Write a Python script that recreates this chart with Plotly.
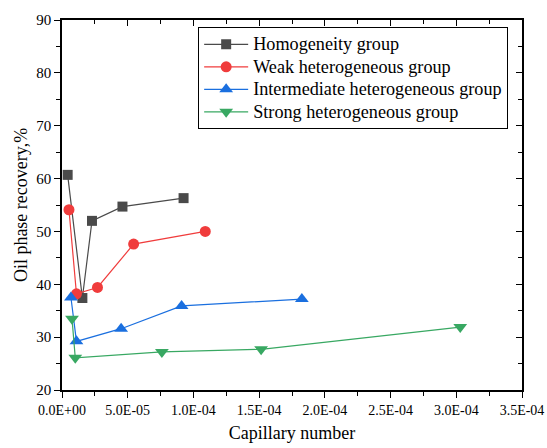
import plotly.graph_objects as go

# Data (capillary number, oil phase recovery %)
homo_x = [4.3e-6, 1.55e-5, 2.28e-5, 4.6e-5, 9.25e-5]
homo_y = [60.7, 37.4, 52.0, 54.7, 56.3]
weak_x = [5.3e-6, 1.1e-5, 2.7e-5, 5.45e-5, 1.09e-4]
weak_y = [54.1, 38.2, 39.4, 47.6, 50.0]
inter_x = [6.8e-6, 1.1e-5, 4.5e-5, 9.1e-5, 1.825e-4]
inter_y = [37.5, 29.2, 31.6, 35.9, 37.2]
strong_x = [7.6e-6, 1.01e-5, 7.6e-5, 1.515e-4, 3.03e-4]
strong_y = [33.5, 26.1, 27.2, 27.7, 31.9]

series_names = ["Homogeneity group", "Weak heterogeneous group",
                "Intermediate heterogeneous group", "Strong heterogeneous group"]

x_tickvals = [0, 5e-5, 1e-4, 1.5e-4, 2e-4, 2.5e-4, 3e-4, 3.5e-4]
x_ticktext = ["0.0E+00", "5.0E-05", "1.0E-04", "1.5E-04", "2.0E-04", "2.5E-04", "3.0E-04", "3.5E-04"]
y_tickvals = [20, 30, 40, 50, 60, 70, 80, 90]

FONT = "Liberation Serif"

styles = [
    ("#4a4a4a", "square", 10),
    ("#f03c3c", "circle", 11),
    ("#1a6fdf", "triangle-up", 12),
    ("#38a862", "triangle-down", 12),
]
data = [(homo_x, homo_y), (weak_x, weak_y), (inter_x, inter_y), (strong_x, strong_y)]

fig = go.Figure()
for name, (xs, ys), (col, sym, sz) in zip(series_names, data, styles):
    fig.add_trace(go.Scatter(
        x=xs, y=ys, name='<span style="font-size:18.2px">' + name + '</span>',
        mode="lines+markers",
        line=dict(color=col, width=1.2),
        marker=dict(symbol=sym, size=sz, color=col),
    ))

# dummy trace to activate mirror axes (top/right, ticks inside)
fig.add_trace(go.Scatter(x=[], y=[], xaxis="x2", yaxis="y2", showlegend=False, hoverinfo="skip"))

xr = [0, 3.5e-4]
yr = [20, 90]
common = dict(showgrid=False, zeroline=False, showline=True, linecolor="black", linewidth=1.5,
              tickwidth=1.3, tickcolor="black", ticklen=6, automargin=False)
fig.update_layout(
    width=547, height=448,
    margin=dict(l=62, r=25, t=20, b=58, autoexpand=False),
    paper_bgcolor="white", plot_bgcolor="white",
    font=dict(family=FONT, size=15, color="black"),
    xaxis=dict(range=xr, tickvals=x_tickvals, ticktext=x_ticktext, ticks="outside",
               minor=dict(dtick=2.5e-5, tick0=0, ticks="outside", ticklen=4, tickwidth=1.3, tickcolor="black"),
               tickfont=dict(size=14, family=FONT, color="black"),
               title=dict(text="Capillary number", font=dict(size=18, family=FONT, color="black"), standoff=10),
               **common),
    yaxis=dict(range=yr, tickvals=y_tickvals, ticks="outside",
               minor=dict(dtick=5, tick0=0, ticks="outside", ticklen=4, tickwidth=1.3, tickcolor="black"),
               tickfont=dict(size=15, family=FONT, color="black"),
               title=dict(text="Oil phase recovery,%", font=dict(size=18, family=FONT, color="black"), standoff=4),
               **common),
    xaxis2=dict(range=xr, overlaying="x", side="top", tickvals=x_tickvals, showticklabels=False,
                ticks="inside",
                minor=dict(dtick=2.5e-5, tick0=0, ticks="inside", ticklen=4, tickwidth=1.3, tickcolor="black"),
                **common),
    yaxis2=dict(range=yr, overlaying="y", side="right", tickvals=y_tickvals, showticklabels=False,
                ticks="inside",
                minor=dict(dtick=5, tick0=0, ticks="inside", ticklen=4, tickwidth=1.3, tickcolor="black"),
                **common),
    legend=dict(x=0.296, y=0.981, xanchor="left", yanchor="top",
                bordercolor="black", borderwidth=1, bgcolor="white",
                font=dict(size=15, family=FONT, color="black"), tracegroupgap=0,
                itemwidth=44),
    showlegend=True,
)

fig.write_html("out.html", config={"displayModeBar": False},
               post_script="document.body.style.margin='0';document.body.style.overflow='hidden';")
